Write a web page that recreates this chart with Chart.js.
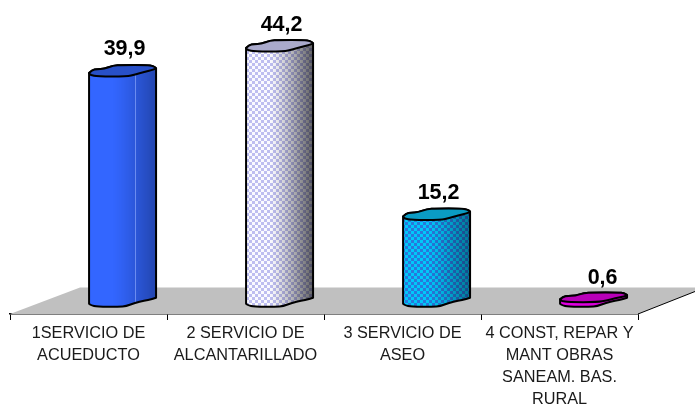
<!DOCTYPE html>
<html>
<head>
<meta charset="utf-8">
<style>html,body{margin:0;padding:0;background:#fff;overflow:hidden}canvas{display:block}</style>
<script src="https://cdn.jsdelivr.net/npm/chart.js@4"></script>
</head>
<body>
<canvas id="c" width="695" height="404"></canvas>
<script>
const categories = [
  ["1SERVICIO DE", "ACUEDUCTO"],
  ["2 SERVICIO DE", "ALCANTARILLADO"],
  ["3 SERVICIO DE", "ASEO"],
  ["4 CONST, REPAR Y", "MANT OBRAS", "SANEAM. BAS.", "RURAL"]
];
const positions = [1, 2, 3, 4];
const values = [39.9, 44.2, 15.2, 0.6];
const valueLabels = ["39,9", "44,2", "15,2", "0,6"];

const BAR_W = 67;
const capOuter = [[0,0],[3,-3],[8,-4],[15,-4],[24,-7.5],[33,-8],[58,-8],[64,-7],[67,-5]];
const capLoop = capOuter.concat([[65,-3.5],[55,-1],[46,1.5],[38,3.5],[8,3.5],[2,2]]);
const bottomWave = [[67,-7],[63,-5.5],[55,-4],[46,-2],[37,1.5],[30,2],[8,2],[2,0.5],[0,-1]];

const styles = [
  {a:[51,102,255], b:[51,102,255], cap:"#2850c8", dither:false, dark:.68, band:true},
  {a:[250,250,255], b:[190,190,240], cap:"#aaaacc", dither:true, dark:.38},
  {a:[0,200,250], b:[40,120,220], cap:"#0a9cc4", dither:true, dark:.6},
  {a:[224,0,224], b:[224,0,224], cap:"#b800b8", dither:false, dark:.8}
];

const fills = {};
function makeFill(i, left) {
  const L = Math.round(left);
  const key = i + ":" + L;
  if (fills[key]) return fills[key];
  const s = styles[i];
  const off = document.createElement("canvas");
  off.width = 695; off.height = 404;
  const o = off.getContext("2d");
  for (let x = L - 2; x < L + BAR_W + 2; x++) {
    const t = Math.min(1, Math.max(0, (x - L) / BAR_W));
    const shade = t < .35 ? 1 : 1 - (1 - s.dark) * Math.pow((t - .35) / .65, 1.2);
    for (let y = 0; y < 404; y++) {
      const on = (Math.floor(x / 3) + Math.floor(y / 3)) % 2 === 0;
      const c = s.dither && !on ? s.b : s.a;
      o.fillStyle = `rgb(${c[0]*shade|0},${c[1]*shade|0},${c[2]*shade|0})`;
      o.fillRect(x, y, 1, 1);
    }
  }
  if (s.band) {
    o.fillStyle = "rgba(150,175,255,.6)";
    o.fillRect(L + 46, 0, 1, 404);
  }
  return fills[key] = o.createPattern(off, "no-repeat");
}

function smooth(ctx, pts, move) {
  if (move) ctx.moveTo(pts[0][0], pts[0][1]); else ctx.lineTo(pts[0][0], pts[0][1]);
  for (let i = 1; i < pts.length - 1; i++) {
    const mx = (pts[i][0] + pts[i+1][0]) / 2, my = (pts[i][1] + pts[i+1][1]) / 2;
    ctx.quadraticCurveTo(pts[i][0], pts[i][1], mx, my);
  }
  const e = pts[pts.length - 1];
  ctx.lineTo(e[0], e[1]);
}
function geom(el) {
  const left = el.x - BAR_W / 2;
  const short = el.base - el.y < 10;
  const lift = short ? 2 : 0;
  return {
    top: capOuter.map(p => [left + p[0], el.y - lift + p[1] * (short ? .85 : 1)]),
    cap: capLoop.map(p => [left + p[0], el.y - lift + p[1] * (short ? .85 : 1)]),
    bot: bottomWave.map(p => [left + p[0], el.base + p[1]])
  };
}
function silhouette(ctx, g) {
  smooth(ctx, g.top, true);
  smooth(ctx, g.bot, false);
  ctx.closePath();
}

const cylinderPlugin = {
  id: "cylinder",
  beforeDatasetsDraw(chart) {
    const ctx = chart.ctx, a = chart.chartArea;
    const backY = a.bottom - 26.5;
    ctx.save();
    ctx.fillStyle = "#c0c0c0";
    ctx.beginPath();
    ctx.moveTo(a.left, a.bottom);
    ctx.lineTo(a.left + 70, backY);
    ctx.lineTo(chart.width, backY);
    ctx.lineTo(chart.width, a.bottom - 22.5);
    ctx.lineTo(a.right, a.bottom);
    ctx.closePath();
    ctx.fill();
    ctx.strokeStyle = "#000"; ctx.lineWidth = 1;
    ctx.beginPath();
    ctx.moveTo(a.right, a.bottom);
    ctx.lineTo(chart.width, a.bottom - 22.5);
    ctx.stroke();
    ctx.restore();

    const els = chart.getDatasetMeta(0).data;
    ctx.save();
    els.forEach((el, i) => {
      ctx.beginPath();
      silhouette(ctx, geom(el));
      ctx.fillStyle = el.options.backgroundColor;
      ctx.fill();
    });
    ctx.beginPath();
    els.forEach(el => silhouette(ctx, geom(el)));
    ctx.clip();
  },
  afterDatasetsDraw(chart) {
    const ctx = chart.ctx;
    ctx.restore();
    const els = chart.getDatasetMeta(0).data;
    ctx.save();
    ctx.lineJoin = "round";
    els.forEach((el, i) => {
      const g = geom(el);
      ctx.strokeStyle = "#000"; ctx.lineWidth = 2;
      ctx.beginPath(); silhouette(ctx, g); ctx.stroke();
      ctx.beginPath(); smooth(ctx, g.cap, true); ctx.closePath();
      ctx.fillStyle = styles[i].cap; ctx.fill(); ctx.stroke();
      ctx.fillStyle = "#000";
      ctx.font = "bold 21.5px 'Liberation Sans', Arial, sans-serif";
      ctx.textAlign = "center"; ctx.textBaseline = "alphabetic";
      const dx = i === 3 ? 9 : 2;
      ctx.fillText(valueLabels[i], el.x + dx, el.y - 17.5);
    });
    ctx.restore();
  }
};

new Chart(document.getElementById("c"), {
  type: "bar",
  data: {
    labels: categories,
    datasets: [{
      data: positions.map((p, i) => ({x: p, y: values[i]})),
      xAxisID: "xb",
      yAxisID: "y",
      barThickness: BAR_W,
      clip: false,
      borderWidth: 0,
      backgroundColor: c => {
        const s = c.chart.scales.xb;
        if (!s || c.dataIndex === undefined) return "#000";
        return makeFill(c.dataIndex, s.getPixelForValue(positions[c.dataIndex]) - BAR_W / 2);
      }
    }]
  },
  plugins: [cylinderPlugin],
  options: {
    responsive: false,
    animation: false,
    layout: {padding: {left: 10, right: 57, top: 12, bottom: 0}},
    plugins: {legend: {display: false}, tooltip: {enabled: false}},
    scales: {
      x: {
        type: "category",
        labels: categories,
        offset: true,
        position: "bottom",
        afterFit(s) { s.height = 90; },
        border: {display: true, color: "#000", width: 1.5},
        grid: {display: true, offset: true, drawOnChartArea: false, drawTicks: true, tickLength: 6, color: "#000", lineWidth: 1},
        ticks: {
          autoSkip: false, maxRotation: 0, minRotation: 0, padding: 3, color: "#1a1a1a",
          font: {family: "'Liberation Sans', Arial, sans-serif", size: 16.3, lineHeight: 22 / 16.3}
        }
      },
      xb: {type: "linear", display: false, offset: false, position: "bottom", min: 0.283, max: 4.283},
      y: {type: "linear", display: false, min: -1.6, max: 50.4}
    }
  }
});
</script>
</body>
</html>
